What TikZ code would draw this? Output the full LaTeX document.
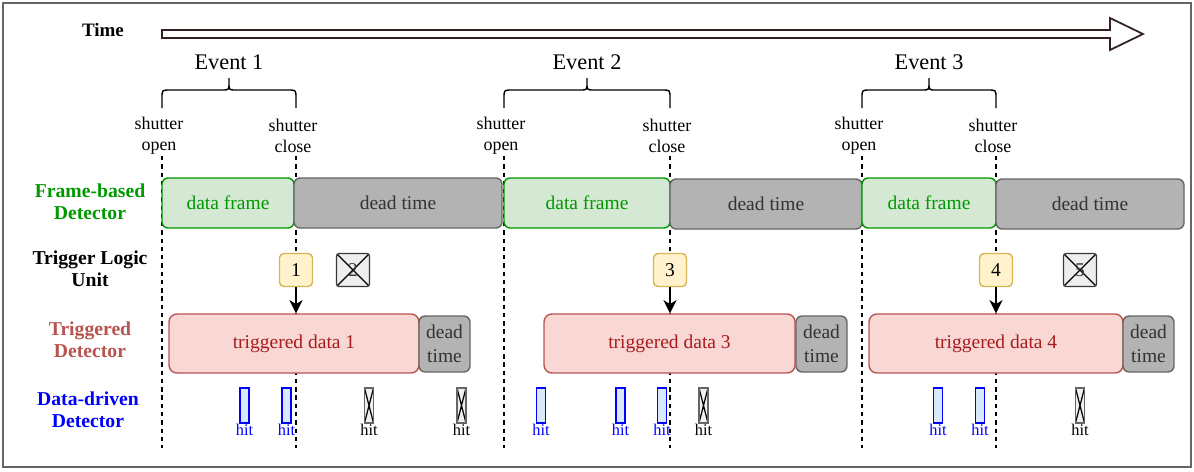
\documentclass[tikz,border=0pt]{standalone}
\usepackage{fontspec}
\setmainfont{Liberation Serif}
\usetikzlibrary{arrows.meta}

\newlength\pxu
\setlength\pxu{0.02cm}

\definecolor{framegreen}{HTML}{009900}
\definecolor{framefill}{HTML}{D5E8D4}
\definecolor{deadfill}{HTML}{B3B3B3}
\definecolor{deadline}{HTML}{666666}
\definecolor{deadtext}{HTML}{333333}
\definecolor{trigfill}{HTML}{F8D7D4}
\definecolor{trigline}{HTML}{B85450}
\definecolor{trigtext}{HTML}{A81C1C}
\definecolor{tlufill}{HTML}{FFF2CC}
\definecolor{tluline}{HTML}{D6B656}
\definecolor{vetofill}{HTML}{EEEEEE}
\definecolor{vetoline}{HTML}{36393D}
\definecolor{hitfill}{HTML}{DAE8FC}
\definecolor{hitblue}{HTML}{0000FF}
\definecolor{lostfill}{HTML}{F0F0F0}
\definecolor{timeline}{HTML}{33201F}

\tikzset{
  lab/.style={font=\fontsize{11.2}{12.8}\selectfont\bfseries, align=center},
  txt/.style={font=\fontsize{11.1}{13.4}\selectfont, align=center, inner sep=0pt},
  frameon/.style={txt, draw=framegreen, fill=framefill, text=framegreen, line width=0.8pt, rounded corners=3.5pt, minimum height=50\pxu},
  deadbox/.style={txt, draw=deadline, fill=deadfill, text=deadtext, line width=0.8pt, rounded corners=3.5pt},
  trigdata/.style={txt, draw=trigline, fill=trigfill, text=trigtext, line width=0.8pt, rounded corners=4.5pt, minimum height=59\pxu},
  tlu/.style={txt, draw=tluline, fill=tlufill, line width=0.8pt, rounded corners=2.5pt, minimum size=33\pxu},
  crossed/.style={path picture={\draw[black, line width=0.7pt] (path picture bounding box.north west) -- (path picture bounding box.south east) (path picture bounding box.north east) -- (path picture bounding box.south west);}},
  veto/.style={txt, draw=vetoline, fill=vetofill, text=vetoline, line width=0.8pt, rounded corners=1.5pt, minimum size=33\pxu, crossed},
  hitlab/.style={font=\fontsize{9.3}{10}\selectfont, text=hitblue, inner sep=0pt},
  hit/.style={draw=hitblue, fill=hitfill, line width=0.8pt, inner sep=0pt, minimum width=9\pxu, minimum height=35\pxu, label distance=1.2pt, label={[hitlab]below:hit}},
  lost hit/.style={draw=deadline, fill=lostfill, line width=0.8pt, inner sep=0pt, minimum width=9\pxu, minimum height=35\pxu, crossed, label distance=1.2pt, label={[hitlab, text=black]below:hit}},
  trig/.style={-{Stealth[length=7.5pt,width=7.5pt,inset=2.2pt]}, line width=0.85pt},
  shutter/.style={font=\fontsize{10.2}{12}\selectfont, align=center, inner sep=0pt},
  shutter line/.style={dash pattern=on 2.5pt off 2.2pt, line width=0.8pt},
  event/.style={font=\fontsize{12.7}{14}\selectfont, inner sep=0pt},
}

\begin{document}
\begin{tikzpicture}[x=0.02cm, y=-0.02cm]
	\useasboundingbox (0,0) rectangle (1194,471);
	\draw[deadline, line width=1pt] (3,3) rectangle (1191,467);

	% time axis
	\node[lab, font=\fontsize{10.8}{12}\selectfont\bfseries] (time) at (103,30) {Time};
	\draw[timeline, line width=1pt] (162,30) -- (1110,30) -- (1110,18) -- (1143,34)
		-- (1110,50) -- (1110,38) -- (162,38) -- cycle;

	% events, braces and shutter lines
	\foreach \a/\b/\n in {162/296/1,504/670/2,862/996/3}{
		\pgfmathsetmacro\m{(\a+\b)/2}
		\node[event] (ev\n) at (\m,62) {Event \n};
		\draw[line width=0.8pt] (\a,108) -- (\a,98) .. controls (\a,90) .. (\a+8,90)
			-- (\m-7,90) .. controls (\m,90) .. (\m,83) -- (\m,78)
			-- (\m,83) .. controls (\m,90) .. (\m+7,90)
			-- (\b-8,90) .. controls (\b,90) .. (\b,98) -- (\b,108);
		\node[shutter] (so\n) at (\a-3,136) {shutter\\open};
		\node[shutter] (sc\n) at (\b-3,136) {shutter\\close};
		\coordinate (so\n a) at (\a,156);
		\coordinate (so\n b) at (\a,448);
		\coordinate (sc\n a) at (\b,156);
		\coordinate (sc\n b) at (\b,448);
		\draw[shutter line] (so\n a) -- (so\n b);
		\draw[shutter line] (sc\n a) -- (sc\n b);
	}

	% row labels
	\node[lab, text=framegreen] (lframe) at (90,202) {Frame-based\\Detector};
	\node[lab] (ltlu) at (90,269) {Trigger Logic\\Unit};
	\node[lab, text=trigline] (ltrig) at (90,340) {Triggered\\Detector};
	\node[lab, text=hitblue] (ldata) at (88,410) {Data-driven\\Detector};

	% frame-based detector
	\node[frameon, minimum width=132\pxu] (df1) at (228,203) {data frame};
	\node[deadbox, minimum width=208\pxu, minimum height=50\pxu] (dt1) at (398,203) {dead time};
	\node[frameon, minimum width=166\pxu] (df2) at (587,203) {data frame};
	\node[deadbox, minimum width=192\pxu, minimum height=50\pxu] (dt2) at (766,204) {dead time};
	\node[frameon, minimum width=134\pxu] (df3) at (929,203) {data frame};
	\node[deadbox, minimum width=188\pxu, minimum height=50\pxu] (dt3) at (1090,204) {dead time};

	% trigger logic unit
	\node[tlu] (t1) at (296,270) {1};
	\node[veto] (t2) at (353,270) {2};
	\node[tlu] (t3) at (670,270) {3};
	\node[tlu] (t4) at (996,270) {4};
	\node[veto] (t5) at (1080,270) {5};

	% triggered detector
	\node[trigdata, minimum width=250\pxu] (td1) at (294,343.5) {triggered data 1};
	\node[deadbox, minimum width=51\pxu, minimum height=56\pxu] (dd1) at (444.5,344) {dead\\time};
	\node[trigdata, minimum width=251\pxu] (td3) at (669.5,343.5) {triggered data 3};
	\node[deadbox, minimum width=51\pxu, minimum height=56\pxu] (dd3) at (821.5,344) {dead\\time};
	\node[trigdata, minimum width=254\pxu] (td4) at (996,343.5) {triggered data 4};
	\node[deadbox, minimum width=51\pxu, minimum height=56\pxu] (dd4) at (1148.5,344) {dead\\time};

	\draw[trig] (t1) -- (t1 |- td1.north);
	\draw[trig] (t3) -- (t3 |- td3.north);
	\draw[trig] (t4) -- (t4 |- td4.north);

	% data-driven detector
	\foreach \x [count=\i] in {244.5,286.5,541,620.5,662,938,980}
		\node[hit] (h\i) at (\x,405.5) {};
	\foreach \x [count=\i] in {369,461.5,703.5,1080}
		\node[lost hit] (lh\i) at (\x,405.5) {};
\end{tikzpicture}
\end{document}
